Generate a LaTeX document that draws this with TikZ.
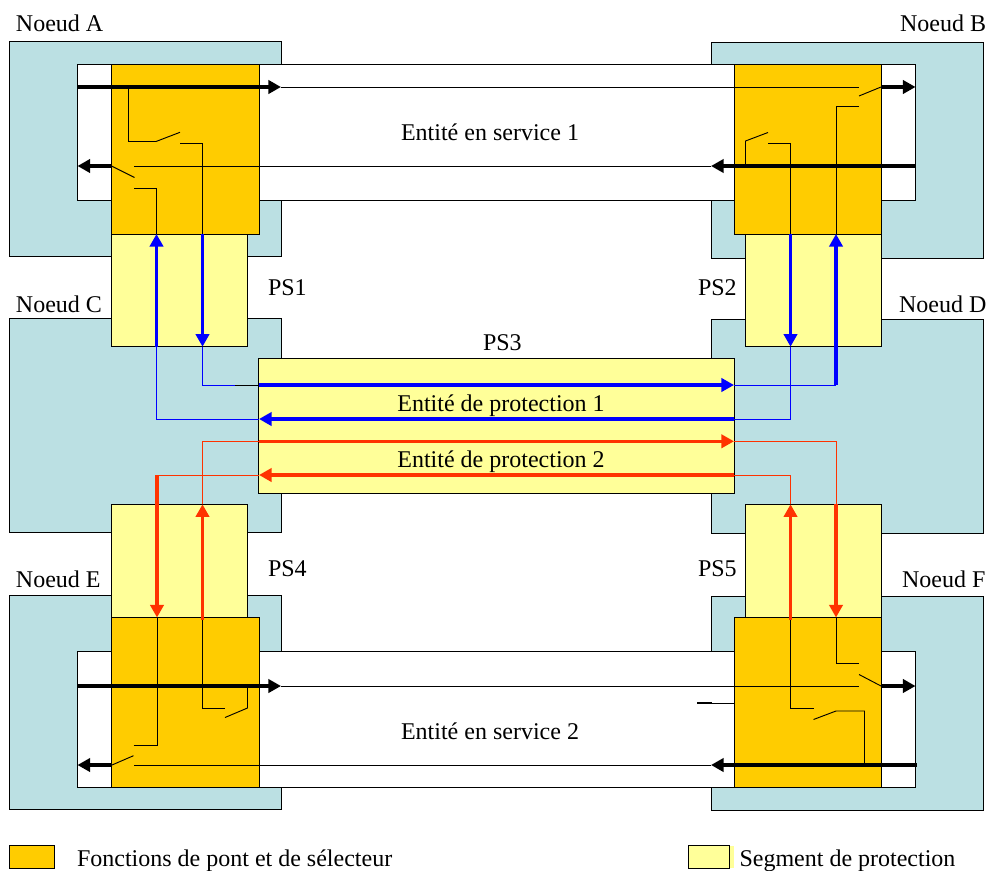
\documentclass[tikz,border=0pt]{standalone}
\usepackage{fontspec}
\setmainfont{Liberation Serif}
\usetikzlibrary{arrows.meta}
\definecolor{nodeteal}{HTML}{BBE0E3}
\definecolor{bridgeorange}{HTML}{FFCC00}
\definecolor{segyellow}{HTML}{FFFF99}
\definecolor{protblue}{HTML}{0000FF}
\definecolor{protred}{HTML}{FF3300}
\tikzset{
  area/.style={draw=black,line width=0.75pt,inner sep=0pt,outer sep=0pt,anchor=north west},
  nodearea/.style={area,fill=nodeteal},
  servicearea/.style={area,fill=white},
  bridgearea/.style={area,fill=bridgeorange},
  segarea/.style={area,fill=segyellow},
  label/.style={inner sep=0pt,outer sep=0pt,font=\fontsize{18pt}{20pt}\selectfont},
  wire/.style={line width=0.7pt,draw=black},
  bwire/.style={line width=0.7pt,draw=protblue},
  rwire/.style={line width=0.7pt,draw=protred},
  tip/.style={-{Triangle[length=9.5pt,width=10pt]}},
  heavy/.style={line width=2.3pt,draw=black,tip},
  bheavy/.style={line width=2.3pt,draw=protblue,tip},
  rheavy/.style={line width=2.3pt,draw=protred,tip},
}
% \boxat{style}{name}{x0}{y0}{x1}{y1}
\newcommand{\boxat}[6]{%
  \pgfmathsetmacro{\bw}{(#5-#3)*0.75}%
  \pgfmathsetmacro{\bh}{(#6-#4)*0.75}%
  \node[#1,minimum width=\bw pt,minimum height=\bh pt] (#2) at (#3,#4) {};}
\begin{document}
\begin{tikzpicture}[x=0.75pt,y=-0.75pt]
\useasboundingbox (0,0) rectangle (987,870);
% --- areas
\boxat{nodearea}{nA}{9.5}{42}{281.5}{256.5}
\boxat{nodearea}{nB}{711.5}{43}{983}{258}
\boxat{nodearea}{nC}{9.5}{318}{281.5}{532.5}
\boxat{nodearea}{nD}{711.5}{319.5}{983}{533.5}
\boxat{nodearea}{nE}{9.5}{595.5}{281.5}{809}
\boxat{nodearea}{nF}{711.5}{596}{983}{810.5}
\boxat{servicearea}{s1}{77.5}{64.5}{915.5}{200}
\boxat{servicearea}{s2}{77.5}{651.7}{915.5}{787.3}
\boxat{segarea}{ps1}{111}{234}{247.3}{346.7}
\boxat{segarea}{ps2}{745.7}{234}{881.7}{346.7}
\boxat{segarea}{ps4}{111}{504.3}{247.3}{617.5}
\boxat{segarea}{ps5}{745.7}{504.3}{881.7}{617.5}
\boxat{bridgearea}{bA}{111}{64.5}{259}{234}
\boxat{bridgearea}{bB}{734.3}{64.5}{881.5}{234}
\boxat{bridgearea}{bE}{111}{617.5}{259}{787.3}
\boxat{bridgearea}{bF}{734.3}{617.5}{881.5}{787.3}
\boxat{segarea}{ps3}{258.7}{358.3}{734.3}{493.3}
\boxat{bridgearea}{legO}{9.5}{845.7}{54.5}{868}
\fill[segyellow] (729,845.7) rectangle (734,868);
\boxat{segarea}{legY}{688.3}{845.7}{729}{868}
% --- named points
\foreach \n/\x/\y in {
 % service 1, upper line
 a1/77/87, a2/281/87, a3/859/87, a4/881/87, a5/915.5/87, a6/128.5/87,
 % service 1, lower line
 b1/916/166, b2/711/166, b3/134/166, b4/111.5/166, b5/77.5/166, b6/745.5/166, 
 % node A switches
 c1/128.5/141.5, c2/156/141.5, c3/180/132.3, c4/180/143.5, c5/202.5/143.5, c6/202.5/234,
 d1/134.5/177.5, d2/134/188, d3/156.5/188, d4/156.5/234,
 % node B switches
 e1/859/96, e2/859/106.7, e3/836/106.7, e4/836/234,
 f1/745.5/141, f2/768/132.5, f3/768/143.5, f4/790.5/143.5, f5/790.5/234,
 % blue runs
 g1/202.5/346.7, g2/202.5/385, g3/235/385, g4/259/385, g5/734/385, g6/836/385,
 h1/156.5/346.7, h2/156.5/419, h3/259/419, h4/734/419, h5/790.5/419, h6/790.5/346.7,
 % red runs
 i1/202.5/504.3, i2/202.5/441.3, i3/259/441.3, i4/734/441.3, i5/836/441.3, i6/836/504.3, i7/836/617.5,
 j1/734/475, j2/259/475, j3/157/475, j4/157/617.5, j5/790.5/475, j6/790.5/504.3, j7/790.5/620, j8/202.5/620,
 % service 2, upper line
 k1/77/686, k2/281/686, k3/859/686, k4/881/686, k5/915.5/686,
 % service 2, lower line
 l1/917/765, l2/711/765, l3/134/765, l4/112/765, l5/77.5/765,
 % node F switches
 m1/859/674.5, m2/859/663.5, m3/836/663.5,
 n1/790.5/708.5, n2/813.5/708.5, n3/813.5/719.5, n4/836/711, n5/864.5/711, n6/864.5/765,
 % stub
 o1/697/703, o2/712/703, o3/734/703,
 % node E switches
 p1/157/745.3, p2/133.5/745.3, p3/133.5/755.7,
 q1/202.5/708.3, q2/225/708.3, q3/225/717.5, q4/247.5/708, q5/247.5/686
}{\coordinate (\n) at (\x,\y);}
% --- service entity 1
\draw[wire] (a2) -- (a3);
\draw[wire] (a6) -- (c1) -- (c2) -- (c3);
\draw[wire] (c4) -- (c5) -- (c6);
\draw[wire] (b2) -- (b3);
\draw[wire] (b4) -- (d1);
\draw[wire] (d2) -- (d3) -- (d4);
\draw[wire] (a4) -- (e1);
\draw[wire] (e2) -- (e3) -- (e4);
\draw[wire] (b6) -- (f1) -- (f2);
\draw[wire] (f3) -- (f4) -- (f5);
\draw[heavy] (a1) -- (a2);
\draw[heavy] (a4) -- (a5);
\draw[heavy] (b1) -- (b2);
\draw[heavy] (b4) -- (b5);
% --- protection entity 1
\draw[bwire] (g1) -- (g2) -- (g3);
\draw[wire] (g3) -- (g4);
\draw[bwire] (g5) -- (g6);
\draw[bwire] (h1) -- (h2) -- (h3);
\draw[bwire] (h4) -- (h5) -- (h6);
\draw[bheavy] (c6) -- (g1);
\draw[bheavy] (f5) -- (h6);
\draw[bheavy] (h1) -- (d4);
\draw[bheavy] (g6) -- (e4);
\draw[bheavy] (g4) -- (g5);
\draw[bheavy] (h4) -- (h3);
% --- protection entity 2
\draw[rwire] (i1) -- (i2) -- (i3);
\draw[rwire] (i4) -- (i5) -- (i6);
\draw[rwire] (j2) -- (j3);
\draw[rwire] (j1) -- (j5) -- (j6);
\draw[rheavy] (i3) -- (i4);
\draw[rheavy] (j1) -- (j2);
\draw[rheavy] (j3) -- (j4);
\draw[rheavy] (i6) -- (i7);
\draw[rheavy] (j7) -- (j6);
\draw[rheavy] (j8) -- (i1);
% --- service entity 2
\draw[wire] (k2) -- (k3);
\draw[wire] (k4) -- (m1);
\draw[wire] (m2) -- (m3) -- (i7);
\draw[wire] (j7) -- (n1) -- (n2);
\draw[wire] (n3) -- (n4) -- (n5) -- (n6);
\draw[wire] (l2) -- (l3);
\draw[wire] (l4) -- (p3);
\draw[wire] (p2) -- (p1) -- (j4);
\draw[wire] (j8) -- (q1) -- (q2);
\draw[wire] (q3) -- (q4) -- (q5);
\draw[line width=1.5pt] (o1) -- (o2);
\draw[wire] (o2) -- (o3);
\draw[heavy] (k1) -- (k2);
\draw[heavy] (k4) -- (k5);
\draw[heavy] (l1) -- (l2);
\draw[heavy] (l4) -- (l5);
% --- labels
\node[label,anchor=base west] (tA) at (16,32) {Noeud A};
\node[label,anchor=base west] (tB) at (900,32) {Noeud B};
\node[label,anchor=base west] (tC) at (16,312) {Noeud C};
\node[label,anchor=base west] (tD) at (899,312) {Noeud D};
\node[label,anchor=base west] (tE) at (16,587) {Noeud E};
\node[label,anchor=base west] (tF) at (902,587) {Noeud F};
\node[label,anchor=base] (tS1) at (490,141) {Entité en service 1};
\node[label,anchor=base] (tS2) at (490,739) {Entité en service 2};
\node[label,anchor=base] (tP1) at (501,411) {Entité de protection 1};
\node[label,anchor=base] (tP2) at (501,467) {Entité de protection 2};
\node[label,anchor=base west] (tPS1) at (268,295) {PS1};
\node[label,anchor=base west] (tPS2) at (698,295) {PS2};
\node[label,anchor=base west] (tPS3) at (483,350) {PS3};
\node[label,anchor=base west] (tPS4) at (268,576) {PS4};
\node[label,anchor=base west] (tPS5) at (698,576) {PS5};
\node[label,anchor=base west] (tLO) at (77,866) {Fonctions de pont et de sélecteur};
\node[label,anchor=base west] (tLY) at (739.5,866) {Segment de protection};
\end{tikzpicture}
\end{document}
